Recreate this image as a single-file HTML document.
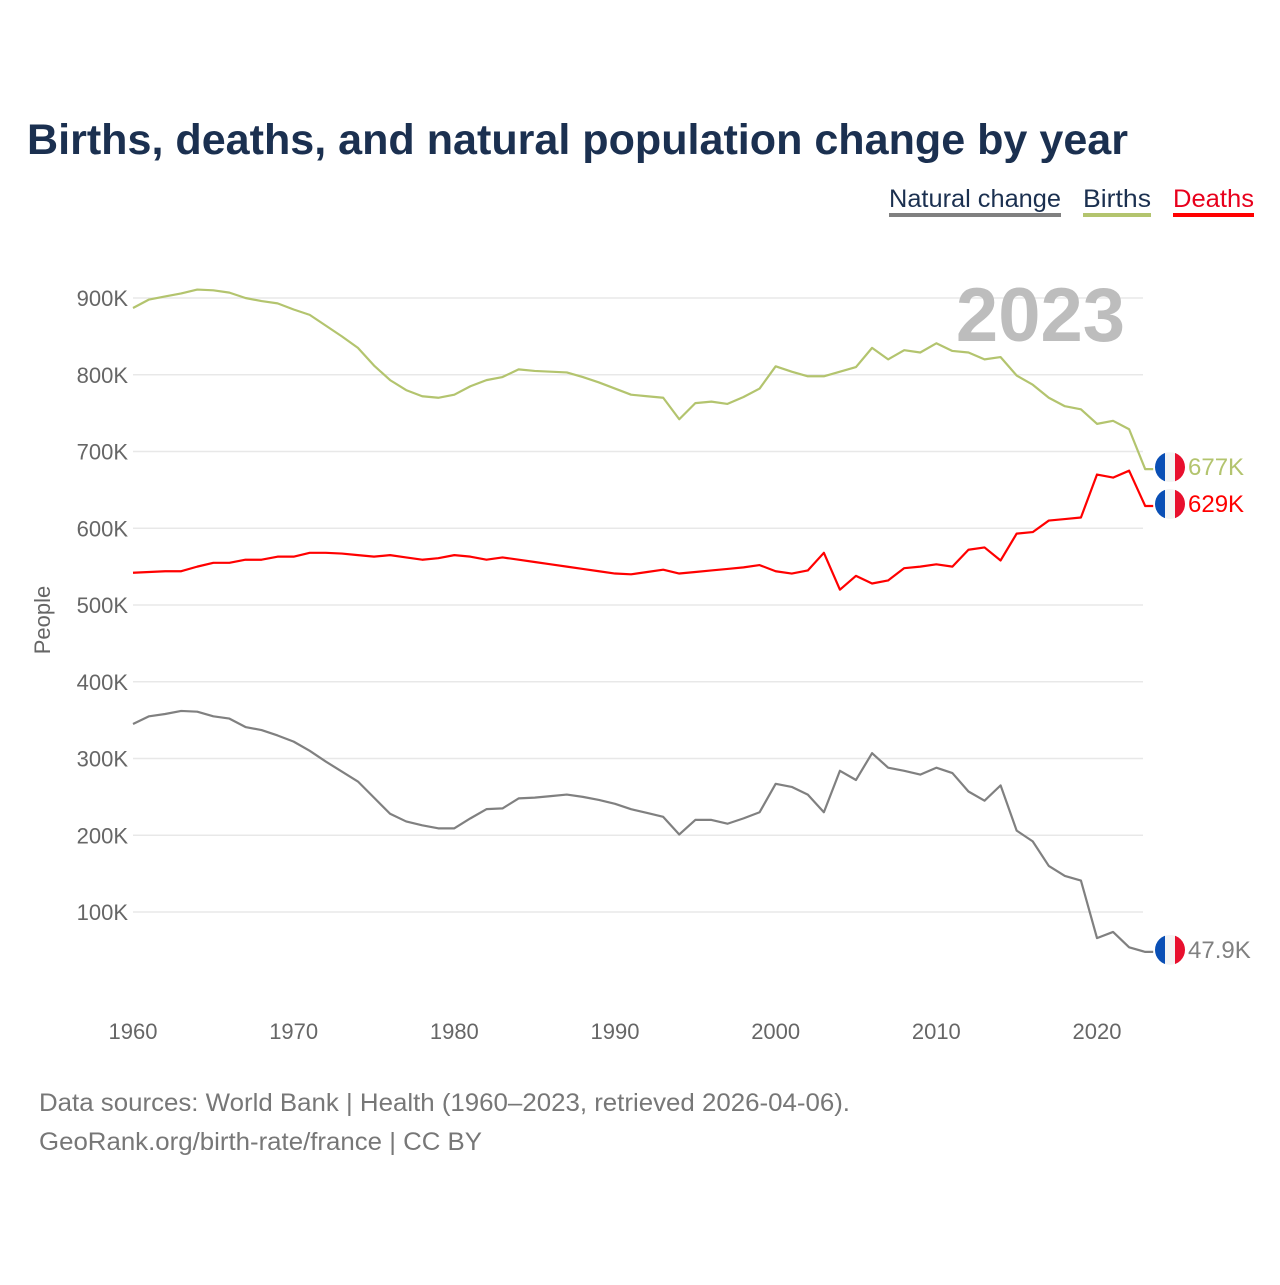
<!DOCTYPE html>
<html><head><meta charset="utf-8"><style>
body{margin:0;background:#fff;font-family:"Liberation Sans",sans-serif}
</style></head><body>
<svg width="1280" height="1280" xmlns="http://www.w3.org/2000/svg" font-family="Liberation Sans, sans-serif">
<text x="27" y="154" font-size="43" font-weight="bold" fill="#1b3050" textLength="1101" lengthAdjust="spacingAndGlyphs">Births, deaths, and natural population change by year</text>
<g font-size="25">
<g><text x="889" y="207" fill="#1b3050" textLength="172" lengthAdjust="spacingAndGlyphs">Natural change</text><rect x="889" y="213" width="172" height="4" fill="#808080"/></g>
<g><text x="1083" y="207" fill="#1b3050" textLength="68" lengthAdjust="spacingAndGlyphs">Births</text><rect x="1083" y="213" width="68" height="4" fill="#b3c46e"/></g>
<g><text x="1173" y="207" fill="#e8001c" textLength="81" lengthAdjust="spacingAndGlyphs">Deaths</text><rect x="1173" y="213" width="81" height="4" fill="#ff0000"/></g>
</g>
<g id="grid"></g><g id="yl"></g><g id="xl"></g>
<text x="1125" y="341" text-anchor="end" font-size="76" font-weight="bold" fill="#bdbdbd">2023</text>
<text transform="translate(50,620) rotate(-90)" text-anchor="middle" font-size="22" fill="#666">People</text>
<g id="lines"></g><g id="ends"></g>
<text x="39" y="1111" font-size="25" fill="#777" textLength="811" lengthAdjust="spacingAndGlyphs">Data sources: World Bank | Health (1960–2023, retrieved 2026-04-06).</text>
<text x="39" y="1150" font-size="25" fill="#777" textLength="443" lengthAdjust="spacingAndGlyphs">GeoRank.org/birth-rate/france | CC BY</text>
</svg>
<script>
const years=[];for(let y=1960;y<=2023;y++)years.push(y);
const births=[887,898,902,906,911,910,907,900,896,893,885,878,864,850,835,812,793,780,772,770,774,785,793,797,807,805,804,803,797,790,782,774,772,770,742,763,765,762,771,782,811,804,798,798,804,810,835,820,832,829,841,831,829,820,823,799,787,770,759,755,736,740,729,677];
const deaths=[542,543,544,544,550,555,555,559,559,563,563,568,568,567,565,563,565,562,559,561,565,563,559,562,559,556,553,550,547,544,541,540,543,546,541,543,545,547,549,552,544,541,545,568,520,538,528,532,548,550,553,550,572,575,558,593,595,610,612,614,670,666,675,629];
const natural=[345,355,358,362,361,355,352,341,337,330,322,310,296,283,270,249,228,218,213,209,209,222,234,235,248,249,251,253,250,246,241,234,229,224,201,220,220,215,222,230,267,263,253,230,284,272,307,288,284,279,288,281,257,245,265,206,192,160,147,141,66,74,54,48];
const yTicks=[100,200,300,400,500,600,700,800,900];
const xTicks=[1960,1970,1980,1990,2000,2010,2020];
const endLabels=["677K","629K","47.9K"];
const NS="http://www.w3.org/2000/svg";
const X=y=>133+(y-1960)*964/60;
const Y=v=>988.75-v*0.7675;
function mk(t,a,p){const e=document.createElementNS(NS,t);for(const k in a)e.setAttribute(k,a[k]);document.getElementById(p).appendChild(e);return e;}
yTicks.forEach(v=>{
 const l=mk('line',{x1:133,x2:1143,y1:Y(v),y2:Y(v),stroke:'#e8e8e8','stroke-width':1.5},'grid');
 
 
 const t=mk('text',{x:128,y:Y(v)+8,'text-anchor':'end','font-size':22,fill:'#666'},'yl');t.textContent=v+'K';
 
 
});
xTicks.forEach(v=>{
 const t=mk('text',{x:X(v),y:1039,'text-anchor':'middle','font-size':22,fill:'#666'},'xl');t.textContent=v;
 
 
});
const series=[[births,'#b3c46e','births-line'],[deaths,'#ff0000','deaths-line'],[natural,'#808080','natural-change-line']];
series.forEach(([d,c,n],i)=>{
 const last=d[d.length-1];
 const pts=d.map((v,j)=>X(years[j])+','+Y(v));
 pts.push((X(years[years.length-1])+8)+','+Y(last));
 const p=mk('polyline',{points:pts.join(' '),fill:'none',stroke:c,'stroke-width':2.2,'stroke-linejoin':'round'},'lines');
 
 
 let ly=Y(last)-2;
 const g=mk('g',{},'ends');
 
 
 const cx=1170;
 g.innerHTML=`<clipPath id="c${i}"><circle cx="${cx}" cy="${ly}" r="15"/></clipPath><g clip-path="url(#c${i})"><rect x="${cx-15}" y="${ly-15}" width="10" height="30" fill="#0a4fb5"/><rect x="${cx-5}" y="${ly-15}" width="10" height="30" fill="#f4f4f4"/><rect x="${cx+5}" y="${ly-15}" width="10" height="30" fill="#e8102e"/></g><text x="1188" y="${ly+8}" font-size="24" fill="${c}">${endLabels[i]}</text>`;
});
</script>
</body></html>
